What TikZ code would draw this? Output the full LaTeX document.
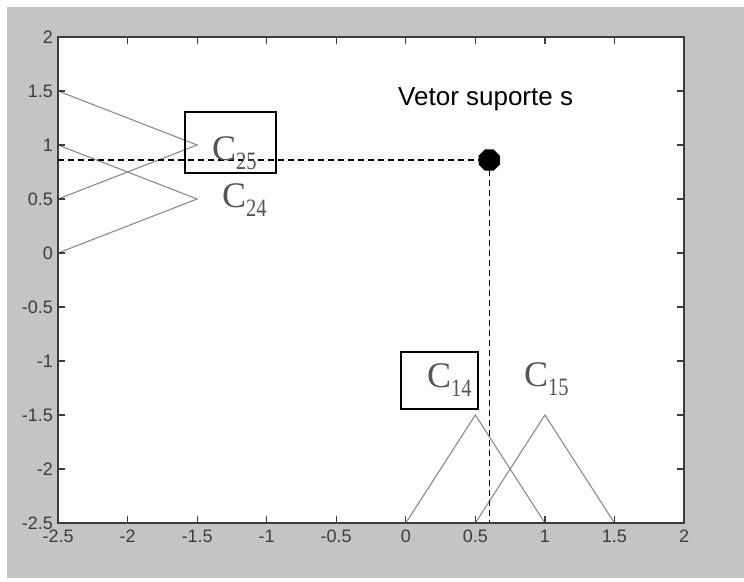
\documentclass[tikz,border=0pt]{standalone}
\usepackage{fontspec}
\setmainfont{Liberation Serif}
\setsansfont{Liberation Sans}
\usetikzlibrary{shapes.geometric}
\definecolor{bggray}{HTML}{C4C4C4}
\definecolor{axisgray}{HTML}{3C3C3C}
\definecolor{fungray}{HTML}{8A8A8A}
\definecolor{labgray}{HTML}{555555}
\newcommand{\clabel}[2]{C\raisebox{-9pt}{\scalebox{0.82}[1]{\fontsize{25}{25}\selectfont #2}}}
\begin{document}
\begin{tikzpicture}[x=1pt,y=1pt,
  ticklab/.style={font=\sffamily\fontsize{18}{18}\selectfont, text=axisgray, inner sep=0pt},
  clab/.style={font=\fontsize{36}{36}\selectfont, text=labgray, inner sep=0pt, anchor=base west},
  fun/.style={draw=fungray, line width=1.1pt},
  guide/.style={draw=black, line width=1.4pt, dash pattern=on 6pt off 4pt},
  lbox/.style={draw=black, line width=1.4pt, inner sep=0pt},
  axisline/.style={draw=axisgray, line width=1.5pt},
  tickline/.style={draw=axisgray, line width=1.2pt}]
\useasboundingbox (0,0) rectangle (744,581);
\fill[white] (0,0) rectangle (744,581);
\fill[bggray] (7,3) rectangle (744,574);
\fill[white] (58,58) rectangle (684,544);
\begin{scope}[shift={(405.8,328)}, x=139.11pt, y=108pt]
  % function triangles
  \coordinate (a1) at (-2.5,1.5); \coordinate (a2) at (-1.5,1); \coordinate (a3) at (-2.5,0.5);
  \coordinate (b1) at (-2.5,1); \coordinate (b2) at (-1.5,0.5); \coordinate (b3) at (-2.5,0);
  \coordinate (c1) at (0,-2.5); \coordinate (c2) at (0.5,-1.5); \coordinate (c3) at (1,-2.5);
  \coordinate (d1) at (0.5,-2.5); \coordinate (d2) at (1,-1.5); \coordinate (d3) at (1.5,-2.5);
  \draw[fun] (a1) -- (a2) -- (a3);
  \draw[fun] (b1) -- (b2) -- (b3);
  \draw[fun] (c1) -- (c2) -- (c3);
  \draw[fun] (d1) -- (d2) -- (d3);
  % axes box and ticks
  \draw[axisline] (-2.5,-2.5) rectangle (2,2);
  \foreach \u [count=\i] in {-2.5,-2,-1.5,-1,-0.5,0,0.5,1,1.5,2} {
    \draw[tickline] (\u,-2.5) -- ++(0pt,7pt);
    \draw[tickline] (\u,2) -- ++(0pt,-7pt);
    \node[ticklab, anchor=north] (xl\i) at ([yshift=-7pt]\u,-2.5) {\u};
  }
  \foreach \v [count=\i] in {-2.5,-2,-1.5,-1,-0.5,0,0.5,1,1.5,2} {
    \draw[tickline] (-2.5,\v) -- ++(7pt,0pt);
    \draw[tickline] (2,\v) -- ++(-7pt,0pt);
    \node[ticklab, anchor=east] (yl\i) at ([xshift=-5pt]-2.5,\v) {\v};
  }
  % support vector
  \coordinate (hs) at (-2.5,0.86);
  \coordinate (ve) at (0.6,-2.5);
  \coordinate (svc) at (0.6,0.86);
  \draw[guide] (hs) -- (svc);
  \draw[guide] (svc) -- (ve);
  \node[regular polygon, regular polygon sides=8, fill=black, minimum size=23pt, inner sep=0pt] (sv) at (svc) {};
\end{scope}
\node[font=\sffamily\fontsize{26}{26}\selectfont, anchor=base west, inner sep=0pt] (title) at (398,475) {Vetor suporte s};
\node[lbox, minimum width=91pt, minimum height=61pt] (box25) at (230.5,438.5) {};
\node[lbox, minimum width=77pt, minimum height=57pt] (box14) at (439.5,200.5) {};
\node[clab] (c25) at (212,420) {\clabel{C}{25}};
\node[clab] (c24) at (222,373) {\clabel{C}{24}};
\node[clab] (c14) at (427,193) {\clabel{C}{14}};
\node[clab] (c15) at (524,194) {\clabel{C}{15}};
\end{tikzpicture}
\end{document}
